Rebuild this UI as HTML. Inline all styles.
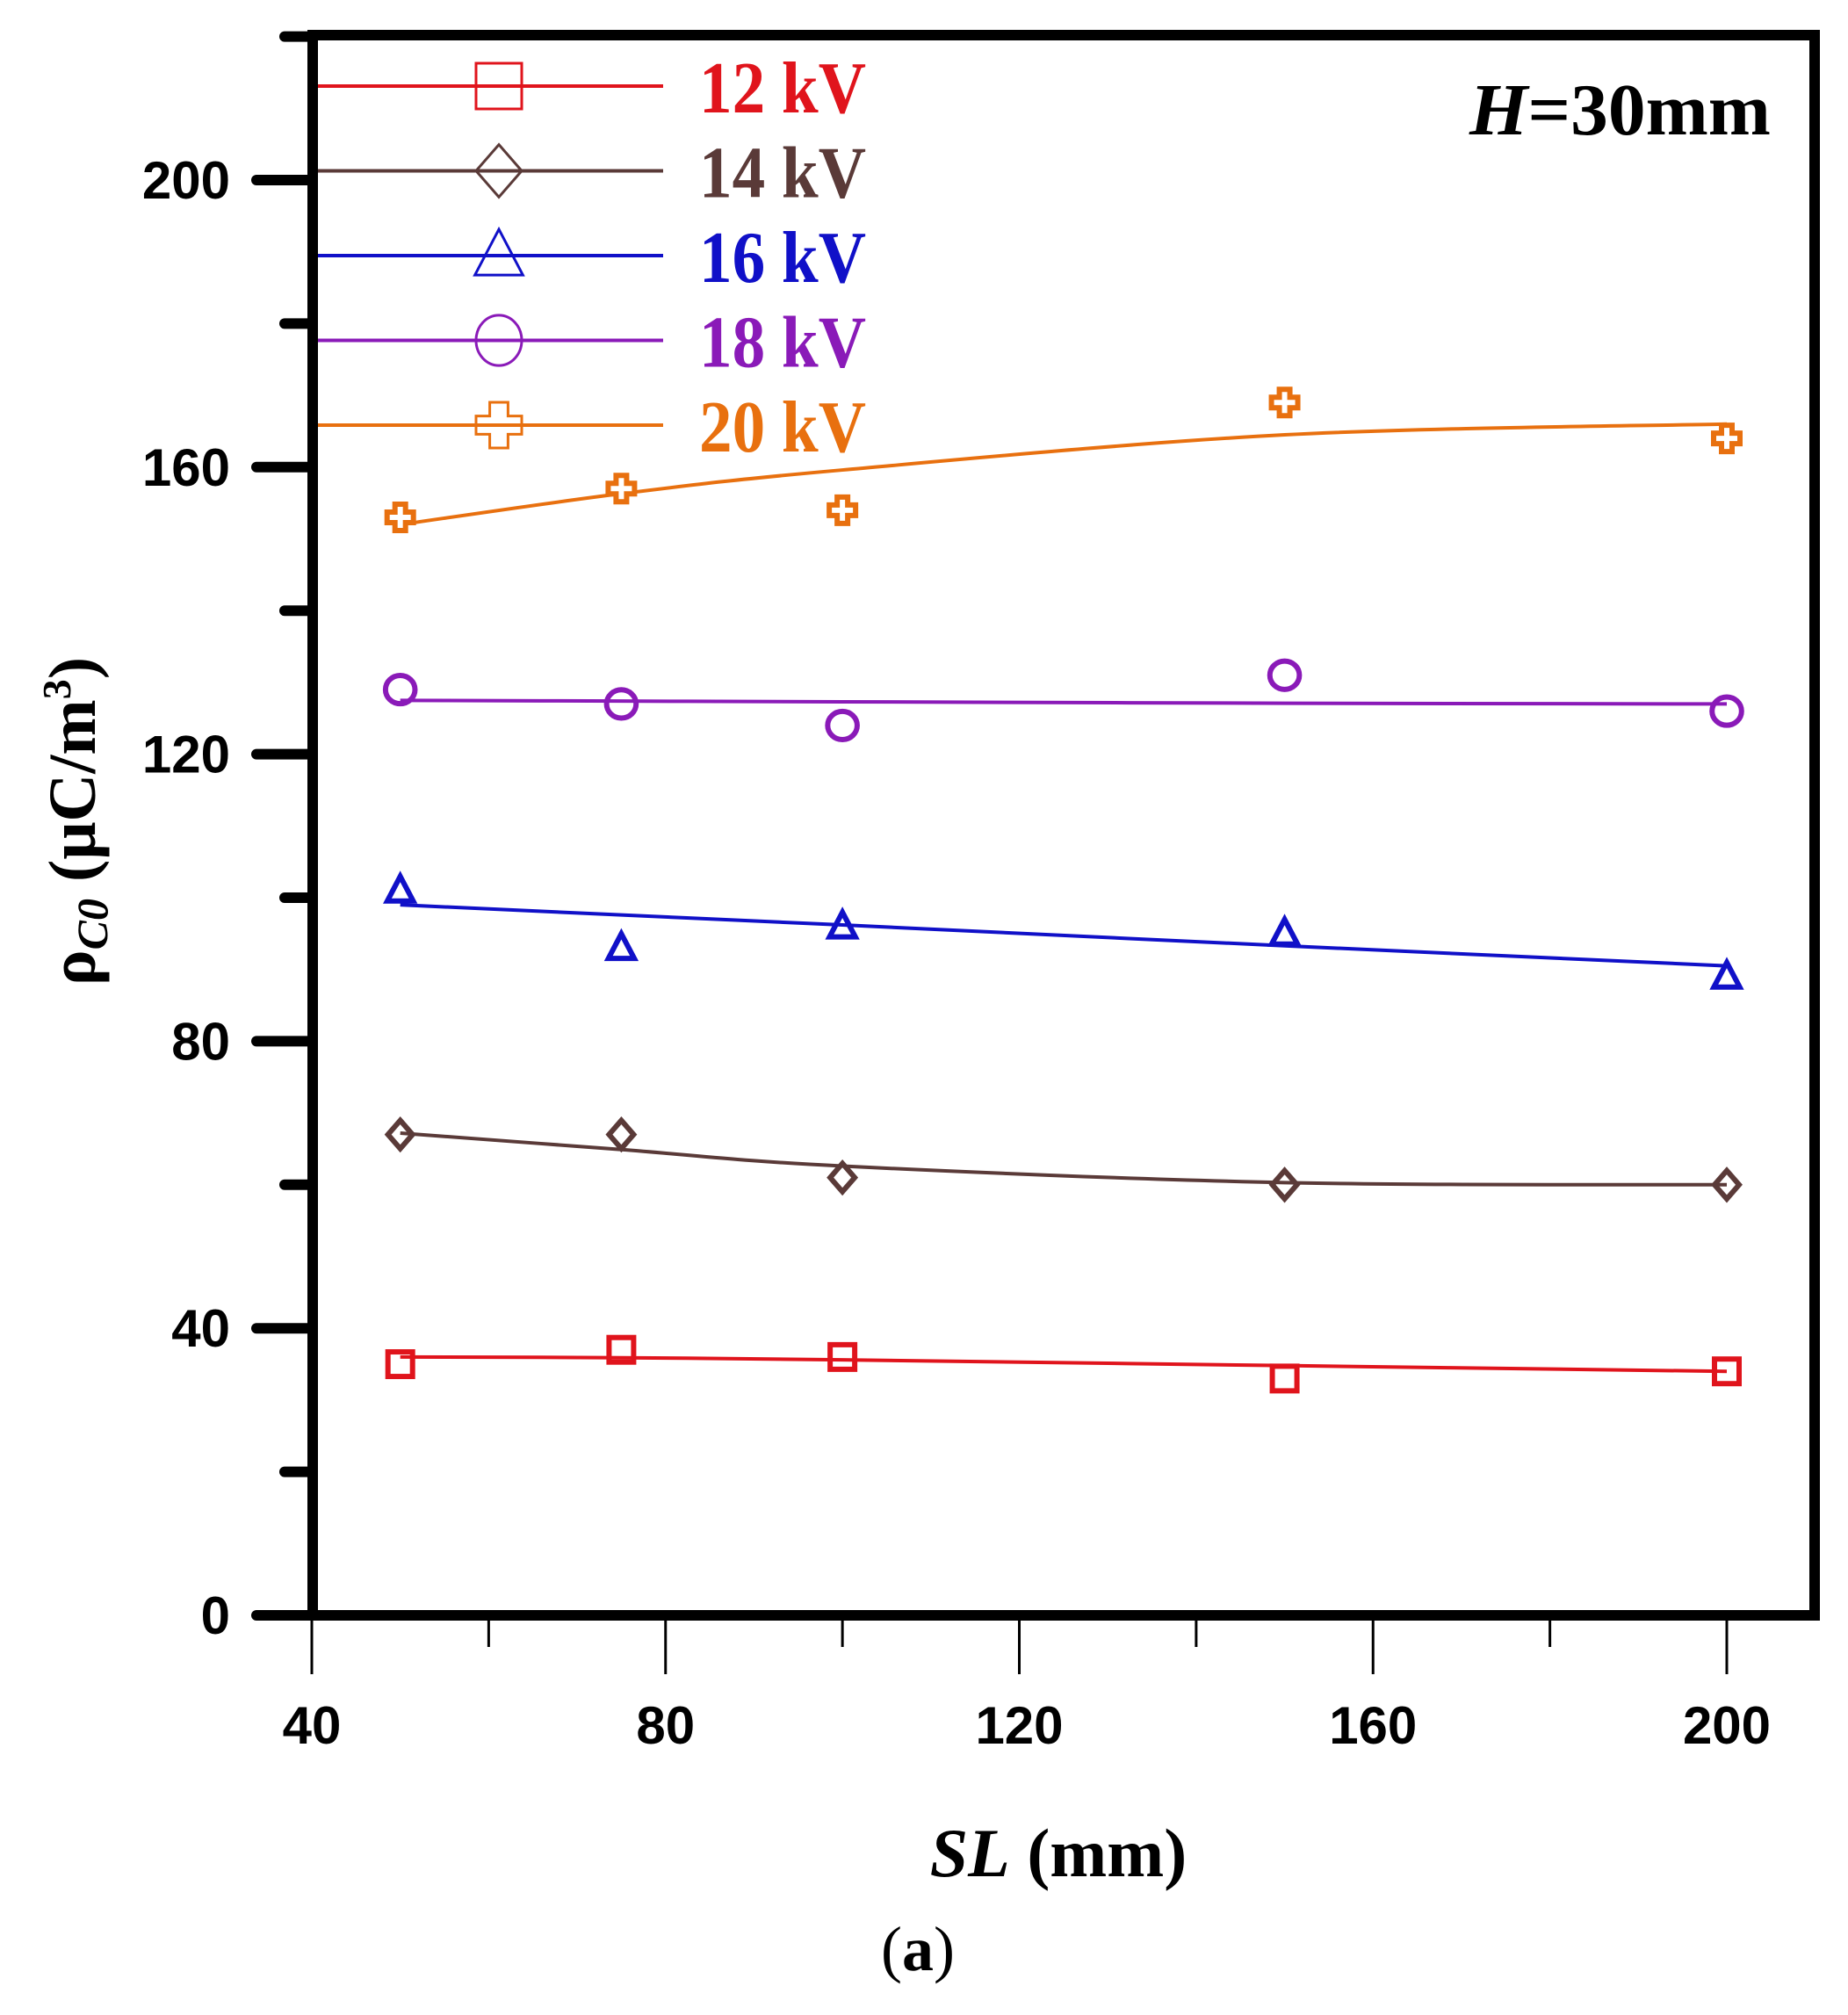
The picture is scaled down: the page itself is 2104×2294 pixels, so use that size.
<!DOCTYPE html>
<html><head><meta charset="utf-8"><style>
html,body{margin:0;padding:0;background:#fff;}
svg{display:block;}
</style></head><body>
<svg id="chart" width="2104" height="2294" viewBox="0 0 2104 2294" xmlns="http://www.w3.org/2000/svg">
<g id="plot"></g>
</svg>
<script>
const xTicks=[40,80,120,160,200];
const xMinor=[60,100,140,180];
const yTicks=[0,40,80,120,160,200];
const yMinor=[20,60,100,140,180,220];
const xVals=[50,75,100,150,200];
const v12=[35,37,36,33,34];
const v14=[67,67,61,60,60];
const v16=[101,93,96,95,89];
const v18=[129,127,124,131,126];
const v20=[153,157,154,169,164];
const fit12=[36,35.9,35.6,34.8,34];
const fit14=[67.2,64.9,62.6,60.3,60];
const fit16=[99,97.6,96.2,93.3,90.5];
const fit18=[127.5,127.4,127.3,127.1,127];
const fit20=[152,156.3,159.6,164.5,166];
const names=["12 kV","14 kV","16 kV","18 kV","20 kV"];
const colors=["#e0141c","#5a3a38","#1010c8","#8a1ab8","#e8700f"];
const shapes=["square","diamond","triangle","circle","plus"];
const series=[v12,v14,v16,v18,v20];
const fits=[fit12,fit14,fit16,fit18,fit20];

const X=v=>355+(v-40)*(1966-355)/160;
const Y=v=>1839-v*(1839-205)/200;
const NS="http://www.w3.org/2000/svg";
const g=document.getElementById('plot');
function mk(t,a,p){const e=document.createElementNS(NS,t);for(const k in a)e.setAttribute(k,a[k]);(p||g).appendChild(e);return e;}

let fr=mk('rect',{x:356,y:40,width:1710,height:1799,fill:'none',stroke:'#000','stroke-width':12});


yTicks.forEach(t=>{
 const l=mk('line',{x1:292,x2:356,y1:Y(t),y2:Y(t),stroke:'#000','stroke-width':12,'stroke-linecap':'round'});
 
 const tx=mk('text',{x:262,y:Y(t)+21,'text-anchor':'end','font-family':'Liberation Sans, sans-serif','font-weight':'bold','font-size':60});
 tx.textContent=t;
});
yMinor.forEach(t=>{
 const l=mk('line',{x1:324,x2:356,y1:Y(t),y2:Y(t),stroke:'#000','stroke-width':12,'stroke-linecap':'round'});
 
});
xTicks.forEach(t=>{
 const l=mk('line',{x1:X(t),x2:X(t),y1:1839,y2:1906,stroke:'#000','stroke-width':3});
 
 const tx=mk('text',{x:X(t),y:1985,'text-anchor':'middle','font-family':'Liberation Sans, sans-serif','font-weight':'bold','font-size':60});
 tx.textContent=t;
});
xMinor.forEach(t=>{
 const l=mk('line',{x1:X(t),x2:X(t),y1:1839,y2:1875,stroke:'#000','stroke-width':3});
 
});

function marker(shape,cx,cy,c,s,filled){
 const sw=filled?6:3;const fill='none';
 let e;
 if(shape==='square') e=mk('rect',{x:cx-s,y:cy-s,width:2*s,height:2*s,fill,stroke:c,'stroke-width':sw});
 else if(shape==='diamond') e=mk('polygon',{points:`${cx},${cy-s*1.15} ${cx+s},${cy} ${cx},${cy+s*1.15} ${cx-s},${cy}`,fill,stroke:c,'stroke-width':sw});
 else if(shape==='triangle') e=mk('polygon',{points:`${cx},${cy-s*1.15} ${cx+s*1.05},${cy+s*0.85} ${cx-s*1.05},${cy+s*0.85}`,fill,stroke:c,'stroke-width':sw});
 else if(shape==='circle') e=mk('ellipse',{cx,cy,rx:filled?s*1.2:s,ry:filled?s*1.15:s*1.1,fill,stroke:c,'stroke-width':sw});
 else { const a=s*0.4;
  e=mk('polygon',{points:`${cx-a},${cy-s} ${cx+a},${cy-s} ${cx+a},${cy-a} ${cx+s},${cy-a} ${cx+s},${cy+a} ${cx+a},${cy+a} ${cx+a},${cy+s} ${cx-a},${cy+s} ${cx-a},${cy+a} ${cx-s},${cy+a} ${cx-s},${cy-a} ${cx-a},${cy-a}`,fill:filled?'#fff':'none',stroke:c,'stroke-width':sw});}
 return e;
}

series.forEach((vals,i)=>{
 const fv=fits[i];
 const pts=xVals.map((x,j)=>[X(x),Y(fv[j])]);
 let d='M'+pts[0][0]+','+pts[0][1];
 for(let j=0;j<pts.length-1;j++){
  const p0=pts[Math.max(j-1,0)],p1=pts[j],p2=pts[j+1],p3=pts[Math.min(j+2,pts.length-1)];
  d+=` C${p1[0]+(p2[0]-p0[0])/6},${p1[1]+(p2[1]-p0[1])/6} ${p2[0]-(p3[0]-p1[0])/6},${p2[1]-(p3[1]-p1[1])/6} ${p2[0]},${p2[1]}`;
 }
 const ln=mk('path',{d,fill:'none',stroke:colors[i],'stroke-width':4});
 
 
 vals.forEach((v,j)=>{
  const m=marker(shapes[i],X(xVals[j]),Y(v),colors[i],shapes[i]==='plus'?15:14,true);
  
  
 });
 const ly=98+i*96.5;
 const ll=mk('line',{x1:362,x2:755,y1:ly,y2:ly,stroke:colors[i],'stroke-width':4});
 
 const lm=marker(shapes[i],568,ly,colors[i],26,false);
 
 const lt=mk('text',{x:796,y:ly+30,fill:colors[i],'font-family':'Liberation Serif, serif','font-weight':'bold','font-size':84,textLength:190,lengthAdjust:'spacingAndGlyphs'});
 lt.textContent=names[i];
});

const h=mk('text',{x:1673,y:153,'font-family':'Liberation Serif, serif','font-weight':'bold','font-size':84,textLength:343,lengthAdjust:'spacingAndGlyphs'});
h.innerHTML='<tspan font-style="italic">H</tspan>=30mm';


const xl=mk('text',{x:1205,y:2136,'text-anchor':'middle','font-family':'Liberation Serif, serif','font-weight':'bold','font-size':78});
xl.innerHTML='<tspan font-style="italic">SL</tspan> (mm)';


const yl=mk('text',{x:0,y:0,'text-anchor':'middle','font-family':'Liberation Serif, serif','font-weight':'bold','font-size':76,transform:'translate(108,935) rotate(-90)'});
yl.innerHTML='ρ<tspan font-style="italic" font-size="50" dy="14">C0</tspan><tspan dy="-14"> (μC/m</tspan><tspan font-size="46" dy="-28">3</tspan><tspan dy="28">)</tspan>';


const cap=mk('text',{x:1045,y:2243,'text-anchor':'middle','font-family':'Liberation Serif, serif','font-size':72});
cap.innerHTML='(<tspan font-weight="bold">a</tspan>)';

</script>
</body></html>
